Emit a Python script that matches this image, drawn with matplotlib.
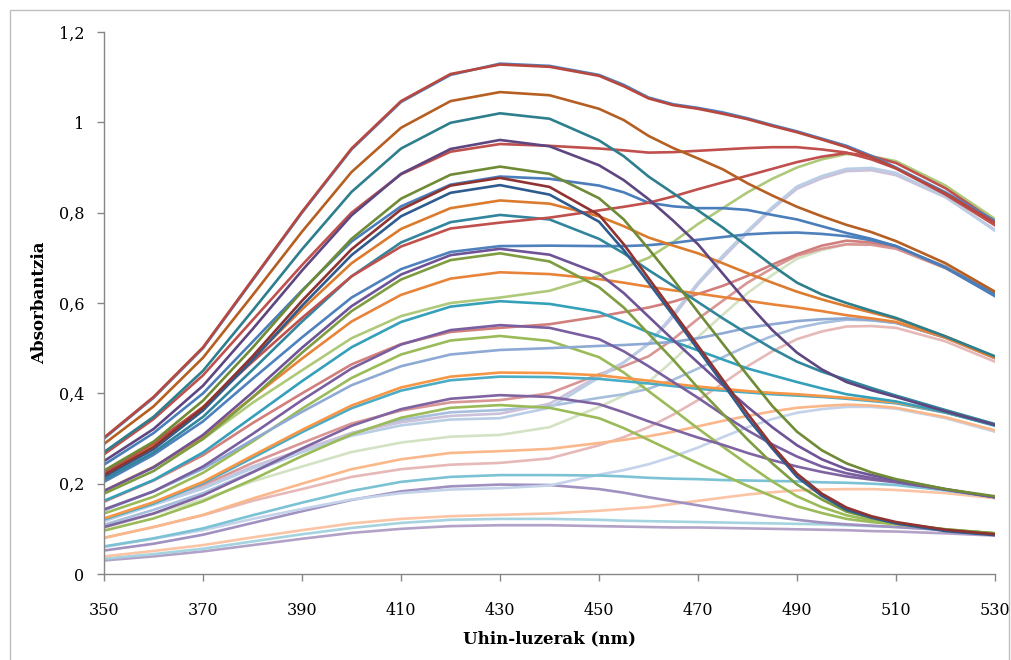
import matplotlib
matplotlib.use('Agg')
import matplotlib.pyplot as plt
from matplotlib.patches import Rectangle

# Uhin-luzerak (nm)
wavelength = [350, 360, 370, 380, 390, 400, 410, 420, 430, 440, 450,
              455, 460, 465, 470, 475, 480, 485, 490, 495, 500, 505, 510,
              520, 530]

# --- 0,78 taldea (530 nm-tan) ---
k1 = [0.30, 0.39, 0.50, 0.65, 0.80, 0.94, 1.045, 1.105, 1.13, 1.125, 1.105, 1.083, 1.055, 1.04, 1.032, 1.022, 1.009, 0.994, 0.98, 0.964, 0.948, 0.926, 0.90, 0.845, 0.782]
k2 = [0.302, 0.392, 0.502, 0.652, 0.802, 0.942, 1.047, 1.107, 1.128, 1.123, 1.103, 1.08, 1.053, 1.038, 1.03, 1.019, 1.007, 0.992, 0.978, 0.962, 0.945, 0.923, 0.898, 0.842, 0.778]
k3 = [0.265, 0.343, 0.44, 0.562, 0.684, 0.80, 0.885, 0.935, 0.952, 0.948, 0.942, 0.938, 0.933, 0.934, 0.937, 0.94, 0.943, 0.945, 0.945, 0.94, 0.933, 0.918, 0.898, 0.84, 0.772]
k4 = [0.224, 0.29, 0.369, 0.47, 0.567, 0.659, 0.725, 0.765, 0.778, 0.789, 0.805, 0.813, 0.822, 0.836, 0.852, 0.867, 0.882, 0.897, 0.912, 0.924, 0.932, 0.925, 0.91, 0.854, 0.78]
k5 = [0.183, 0.237, 0.299, 0.379, 0.451, 0.522, 0.571, 0.60, 0.612, 0.627, 0.66, 0.678, 0.70, 0.735, 0.775, 0.81, 0.845, 0.875, 0.90, 0.918, 0.93, 0.925, 0.914, 0.86, 0.786]
k6 = [0.119, 0.155, 0.192, 0.238, 0.275, 0.312, 0.336, 0.35, 0.355, 0.377, 0.439, 0.469, 0.509, 0.57, 0.641, 0.70, 0.756, 0.808, 0.853, 0.876, 0.892, 0.894, 0.883, 0.834, 0.762]
k7 = [0.117, 0.153, 0.189, 0.234, 0.27, 0.306, 0.329, 0.342, 0.345, 0.368, 0.435, 0.468, 0.51, 0.575, 0.645, 0.705, 0.76, 0.812, 0.858, 0.881, 0.897, 0.899, 0.888, 0.835, 0.76]

# --- 0,62 taldea ---
l1 = [0.288, 0.371, 0.479, 0.617, 0.758, 0.89, 0.988, 1.047, 1.067, 1.06, 1.03, 1.005, 0.97, 0.943, 0.92, 0.896, 0.865, 0.838, 0.813, 0.792, 0.773, 0.757, 0.737, 0.688, 0.625]
l2 = [0.242, 0.312, 0.40, 0.514, 0.628, 0.736, 0.814, 0.862, 0.88, 0.875, 0.86, 0.845, 0.822, 0.814, 0.81, 0.81, 0.806, 0.795, 0.785, 0.77, 0.755, 0.742, 0.726, 0.678, 0.615]
l3 = [0.204, 0.264, 0.338, 0.432, 0.524, 0.612, 0.675, 0.713, 0.726, 0.727, 0.726, 0.726, 0.728, 0.733, 0.74, 0.746, 0.752, 0.755, 0.756, 0.753, 0.748, 0.739, 0.726, 0.679, 0.62]
l4 = [0.16, 0.207, 0.263, 0.334, 0.40, 0.464, 0.509, 0.536, 0.545, 0.553, 0.57, 0.58, 0.59, 0.603, 0.62, 0.638, 0.66, 0.685, 0.708, 0.727, 0.738, 0.734, 0.725, 0.68, 0.62]
l5 = [0.121, 0.157, 0.196, 0.246, 0.29, 0.333, 0.362, 0.38, 0.385, 0.40, 0.442, 0.46, 0.482, 0.52, 0.565, 0.605, 0.645, 0.677, 0.705, 0.72, 0.73, 0.729, 0.72, 0.677, 0.618]
l6 = [0.102, 0.133, 0.165, 0.205, 0.238, 0.27, 0.291, 0.304, 0.308, 0.325, 0.37, 0.395, 0.425, 0.473, 0.525, 0.574, 0.622, 0.662, 0.698, 0.717, 0.73, 0.731, 0.723, 0.682, 0.622]

# --- 0,48 taldea ---
m1 = [0.27, 0.348, 0.45, 0.583, 0.719, 0.846, 0.942, 0.999, 1.02, 1.008, 0.96, 0.925, 0.88, 0.843, 0.805, 0.767, 0.725, 0.683, 0.645, 0.619, 0.60, 0.583, 0.567, 0.526, 0.482]
m2 = [0.223, 0.287, 0.37, 0.477, 0.586, 0.688, 0.764, 0.81, 0.827, 0.82, 0.792, 0.77, 0.745, 0.727, 0.71, 0.688, 0.666, 0.645, 0.625, 0.608, 0.593, 0.579, 0.565, 0.526, 0.48]
m3 = [0.184, 0.237, 0.304, 0.391, 0.477, 0.559, 0.618, 0.654, 0.668, 0.664, 0.653, 0.645, 0.636, 0.628, 0.621, 0.613, 0.605, 0.597, 0.59, 0.582, 0.573, 0.566, 0.558, 0.523, 0.478]
m4 = [0.141, 0.183, 0.233, 0.297, 0.359, 0.418, 0.46, 0.486, 0.496, 0.50, 0.505, 0.507, 0.51, 0.514, 0.522, 0.533, 0.545, 0.553, 0.56, 0.564, 0.566, 0.562, 0.556, 0.523, 0.478]
m5 = [0.109, 0.142, 0.179, 0.226, 0.27, 0.312, 0.341, 0.358, 0.363, 0.372, 0.39, 0.398, 0.41, 0.43, 0.455, 0.48, 0.505, 0.527, 0.545, 0.556, 0.563, 0.562, 0.556, 0.524, 0.478]
m6 = [0.08, 0.104, 0.13, 0.162, 0.188, 0.215, 0.232, 0.242, 0.246, 0.256, 0.285, 0.303, 0.325, 0.353, 0.385, 0.422, 0.46, 0.493, 0.52, 0.537, 0.548, 0.549, 0.545, 0.515, 0.47]

# --- 0,33 taldea ---
n1 = [0.25, 0.321, 0.417, 0.542, 0.672, 0.794, 0.886, 0.941, 0.961, 0.947, 0.905, 0.872, 0.83, 0.782, 0.73, 0.665, 0.60, 0.54, 0.49, 0.453, 0.425, 0.407, 0.392, 0.36, 0.33]
n2 = [0.209, 0.269, 0.348, 0.452, 0.559, 0.659, 0.734, 0.779, 0.795, 0.785, 0.742, 0.71, 0.673, 0.638, 0.602, 0.566, 0.532, 0.499, 0.47, 0.448, 0.43, 0.412, 0.395, 0.363, 0.332]
n3 = [0.162, 0.208, 0.269, 0.348, 0.427, 0.502, 0.558, 0.592, 0.604, 0.598, 0.58, 0.558, 0.535, 0.515, 0.495, 0.475, 0.455, 0.44, 0.425, 0.411, 0.398, 0.39, 0.382, 0.358, 0.328]
n4 = [0.123, 0.159, 0.204, 0.262, 0.319, 0.373, 0.413, 0.437, 0.446, 0.445, 0.44, 0.434, 0.428, 0.421, 0.415, 0.41, 0.405, 0.401, 0.398, 0.394, 0.39, 0.385, 0.38, 0.358, 0.33]
n5 = [0.121, 0.156, 0.201, 0.257, 0.314, 0.367, 0.406, 0.429, 0.437, 0.436, 0.432, 0.427, 0.422, 0.416, 0.41, 0.406, 0.402, 0.398, 0.395, 0.392, 0.388, 0.383, 0.378, 0.357, 0.33]
n6 = [0.08, 0.104, 0.131, 0.167, 0.20, 0.232, 0.254, 0.268, 0.272, 0.277, 0.29, 0.297, 0.305, 0.315, 0.327, 0.339, 0.35, 0.36, 0.368, 0.372, 0.375, 0.373, 0.368, 0.347, 0.318]
n7 = [0.06, 0.078, 0.097, 0.122, 0.144, 0.165, 0.179, 0.187, 0.19, 0.196, 0.22, 0.23, 0.243, 0.26, 0.28, 0.303, 0.325, 0.343, 0.357, 0.365, 0.37, 0.37, 0.366, 0.345, 0.315]

# --- 0,17 taldea ---
p1 = [0.229, 0.293, 0.384, 0.501, 0.626, 0.742, 0.831, 0.884, 0.902, 0.886, 0.832, 0.785, 0.72, 0.652, 0.58, 0.51, 0.44, 0.372, 0.315, 0.274, 0.245, 0.225, 0.21, 0.188, 0.172]
p2 = [0.184, 0.236, 0.308, 0.402, 0.501, 0.593, 0.663, 0.706, 0.72, 0.707, 0.665, 0.622, 0.57, 0.518, 0.468, 0.418, 0.37, 0.325, 0.285, 0.254, 0.232, 0.219, 0.208, 0.188, 0.17]
p3 = [0.143, 0.183, 0.238, 0.31, 0.385, 0.455, 0.508, 0.54, 0.551, 0.545, 0.52, 0.493, 0.46, 0.425, 0.39, 0.353, 0.318, 0.287, 0.26, 0.238, 0.223, 0.213, 0.204, 0.187, 0.17]
p4 = [0.104, 0.134, 0.174, 0.225, 0.278, 0.328, 0.365, 0.388, 0.396, 0.392, 0.376, 0.358, 0.338, 0.32, 0.302, 0.286, 0.268, 0.252, 0.238, 0.226, 0.216, 0.209, 0.203, 0.187, 0.17]
p5 = [0.061, 0.079, 0.101, 0.13, 0.158, 0.184, 0.204, 0.215, 0.219, 0.219, 0.218, 0.216, 0.213, 0.211, 0.21, 0.208, 0.207, 0.206, 0.205, 0.203, 0.202, 0.20, 0.197, 0.185, 0.17]
p6 = [0.039, 0.051, 0.064, 0.081, 0.097, 0.112, 0.122, 0.128, 0.131, 0.134, 0.14, 0.144, 0.148, 0.155, 0.162, 0.169, 0.176, 0.181, 0.185, 0.187, 0.188, 0.188, 0.186, 0.179, 0.168]

# --- 0,09 taldea ---
q1 = [0.219, 0.281, 0.368, 0.482, 0.605, 0.719, 0.807, 0.86, 0.877, 0.857, 0.795, 0.73, 0.655, 0.58, 0.505, 0.43, 0.355, 0.284, 0.222, 0.178, 0.147, 0.128, 0.115, 0.098, 0.088]
q2 = [0.215, 0.276, 0.362, 0.474, 0.594, 0.706, 0.792, 0.844, 0.861, 0.84, 0.78, 0.717, 0.645, 0.572, 0.497, 0.422, 0.345, 0.278, 0.215, 0.173, 0.142, 0.125, 0.112, 0.095, 0.086]
q3 = [0.178, 0.228, 0.299, 0.391, 0.49, 0.582, 0.652, 0.695, 0.71, 0.692, 0.635, 0.59, 0.532, 0.474, 0.412, 0.355, 0.298, 0.245, 0.198, 0.165, 0.138, 0.124, 0.113, 0.098, 0.09]
q4 = [0.134, 0.171, 0.224, 0.293, 0.366, 0.434, 0.486, 0.517, 0.527, 0.516, 0.48, 0.446, 0.405, 0.364, 0.322, 0.282, 0.243, 0.205, 0.172, 0.148, 0.13, 0.119, 0.111, 0.099, 0.09]
q5 = [0.096, 0.123, 0.161, 0.209, 0.261, 0.309, 0.346, 0.368, 0.374, 0.368, 0.345, 0.323, 0.297, 0.271, 0.245, 0.22, 0.195, 0.172, 0.15, 0.135, 0.122, 0.115, 0.11, 0.099, 0.09]
q6 = [0.052, 0.067, 0.087, 0.113, 0.139, 0.164, 0.183, 0.194, 0.198, 0.197, 0.188, 0.18, 0.17, 0.161, 0.152, 0.143, 0.135, 0.127, 0.12, 0.114, 0.11, 0.107, 0.104, 0.097, 0.089]
q7 = [0.034, 0.044, 0.056, 0.072, 0.088, 0.102, 0.113, 0.12, 0.122, 0.122, 0.12, 0.118, 0.117, 0.116, 0.115, 0.114, 0.113, 0.112, 0.111, 0.11, 0.108, 0.106, 0.104, 0.098, 0.09]
q8 = [0.03, 0.039, 0.05, 0.064, 0.078, 0.091, 0.10, 0.106, 0.108, 0.108, 0.106, 0.105, 0.104, 0.103, 0.103, 0.102, 0.101, 0.10, 0.099, 0.098, 0.097, 0.095, 0.094, 0.09, 0.085]

# marrazteko ordena (argiak lehenik) eta koloreak
series = [
    (q8, '#B3A2C7'), (q7, '#A5D3E0'), (p6, '#FBC4A4'), (q6, '#A091C1'),
    (n7, '#C4D3EA'), (p5, '#7BC2D4'), (m6, '#E6B9B8'), (n6, '#FAB88A'),
    (l6, '#D4E2C4'), (m5, '#A7BEDD'), (l5, '#D99694'), (k6, '#CCC1DA'),
    (k7, '#B9CDE5'), (k5, '#AFC97A'),
    (q5, '#9BBB59'), (q4, '#9BBB59'), (p4, '#8064A2'), (n5, '#4BACC6'),
    (n4, '#F79646'), (m4, '#8EAAD4'), (l4, '#D17F7C'), (p3, '#7A5FA0'),
    (n3, '#35A0BA'), (m3, '#E8843A'), (l3, '#4F81BD'), (p2, '#6E5496'),
    (q3, '#7E9D40'), (n2, '#31859C'), (m2, '#DB7B2E'), (l2, '#4A7EBB'),
    (k4, '#C0504D'), (k3, '#C0504D'), (p1, '#6F8B35'),
    (q2, '#2F5C8F'), (q1, '#8E3331'), (n1, '#5E4680'), (m1, '#2E7F8D'),
    (l1, '#B65F22'), (k1, '#4F81BD'), (k2, '#B7473F'),
]

yticks = [0, 0.2, 0.4, 0.6, 0.8, 1.0, 1.2]
ytick_labels = ['0', '0,2', '0,4', '0,6', '0,8', '1', '1,2']
xticks = [350, 370, 390, 410, 430, 450, 470, 490, 510, 530]

plt.rcParams['font.family'] = 'DejaVu Serif'

fig = plt.figure(figsize=(10.11, 6.6), dpi=100)
ax = fig.add_axes([0.1029, 0.1303, 0.8813, 0.8212])

for vals, col in series:
    ax.plot(wavelength, vals, color=col, lw=1.9, solid_joinstyle='round')

ax.set_xlim(350, 530)
ax.set_ylim(0, 1.2)
ax.set_xticks(xticks)
ax.set_xticklabels([str(x) for x in xticks], fontsize=11.5)
ax.set_yticks(yticks)
ax.set_yticklabels(ytick_labels, fontsize=11.5)
ax.tick_params(axis='x', direction='out', length=5, width=1, color='#868686', pad=15)
ax.tick_params(axis='y', direction='out', length=5, width=1, color='#868686', pad=9)

for side in ['top', 'right']:
    ax.spines[side].set_visible(False)
for side in ['left', 'bottom']:
    ax.spines[side].set_color('#868686')
    ax.spines[side].set_linewidth(1)

ax.set_xlabel('Uhin-luzerak (nm)', fontsize=12, fontweight='bold', labelpad=8)
ax.set_ylabel('Absorbantzia', fontsize=12, fontweight='bold', labelpad=8)

# kanpoko markoa
fig.patches.append(Rectangle((0.0099, -0.02), 0.988, 1.005, transform=fig.transFigure,
                             fill=False, edgecolor='#BFBFBF', lw=1))

fig.savefig('out.png', dpi=100)
